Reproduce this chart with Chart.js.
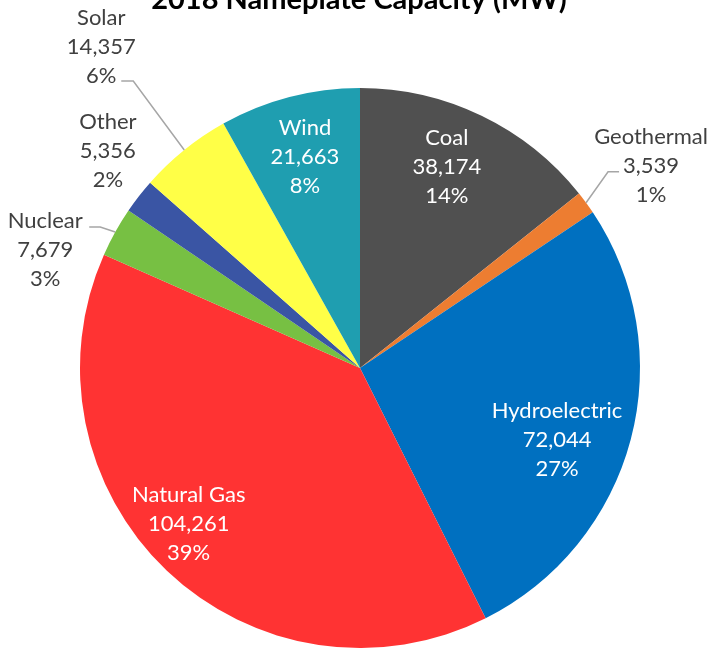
<!DOCTYPE html>
<html>
<head>
<meta charset="utf-8">
<script src="https://cdn.jsdelivr.net/npm/chart.js@4.4.1/dist/chart.umd.min.js"></script>
<style>
  body { margin: 0; background: #fff; }
  canvas { display: block; }
</style>
</head>
<body>
<canvas id="capacityChart" width="711" height="648"></canvas>
<script>
const categories = ['Coal', 'Geothermal', 'Hydroelectric', 'Natural Gas', 'Nuclear', 'Other', 'Solar', 'Wind'];
const capacityMW = [38174, 3539, 72044, 104261, 7679, 5356, 14357, 21663];
const percentLabels = ['14%', '1%', '27%', '39%', '3%', '2%', '6%', '8%'];
const sliceColors = ['#505050', '#ED7D31', '#0070C0', '#FF3333', '#77C043', '#3A55A4', '#FFFF47', '#1F9EB0'];

// where each label goes: inside the slice, or outside with an optional leader line
// (offsets are relative to the point on the rim at the middle of the slice)
const labelPlacement = [
  { inside: true, radius: 0.78, dx: -8, dy: -4 },
  { dx: 65, dy: -37, leader: [[22, -31], [33, -31]] },
  { inside: true, radius: 0.75, dx: -6, dy: 18 },
  { inside: true, radius: 0.825, dx: -12, dy: -11 },
  { dx: -70, dy: 18, leader: [[-15, -5], [-26, -5]] },
  { dx: -31, dy: -45 },
  { dx: -83, dy: -103, leader: [[-51, -69], [-63, -69]] },
  { inside: true, radius: 0.78, dx: 0, dy: 0 }
];

const FONT = 'Lato, "Open Sans", sans-serif';

const pieLabels = {
  id: 'pieLabels',
  afterDatasetsDraw(chart) {
    const ctx = chart.ctx;
    const meta = chart.getDatasetMeta(0);
    ctx.save();
    ctx.font = '22px ' + FONT;
    ctx.textAlign = 'center';
    ctx.textBaseline = 'middle';
    meta.data.forEach((arc, i) => {
      const p = arc.getProps(['x', 'y', 'startAngle', 'endAngle', 'outerRadius'], true);
      const mid = (p.startAngle + p.endAngle) / 2;
      const place = labelPlacement[i];
      const lines = [categories[i], capacityMW[i].toLocaleString('en-US'), percentLabels[i]];
      let cx, cy;
      if (place.inside) {
        cx = p.x + Math.cos(mid) * p.outerRadius * place.radius + place.dx;
        cy = p.y + Math.sin(mid) * p.outerRadius * place.radius + place.dy;
        ctx.fillStyle = '#ffffff';
      } else {
        const ex = p.x + Math.cos(mid) * p.outerRadius;
        const ey = p.y + Math.sin(mid) * p.outerRadius;
        cx = ex + place.dx;
        cy = ey + place.dy;
        if (place.leader) {
          ctx.beginPath();
          ctx.moveTo(ex, ey);
          place.leader.forEach(pt => ctx.lineTo(ex + pt[0], ey + pt[1]));
          ctx.strokeStyle = '#A6A6A6';
          ctx.lineWidth = 1.5;
          ctx.stroke();
        }
        ctx.fillStyle = '#404040';
      }
      lines.forEach((t, k) => ctx.fillText(t, cx, cy + (k - 1) * 29));
    });
    // title, partly cut off at the top edge like the source image
    ctx.font = 'bold 29px ' + FONT;
    ctx.fillStyle = '#000000';
    ctx.textBaseline = 'alphabetic';
    ctx.fillText('2018 Nameplate Capacity (MW)', 359, 9);
    ctx.restore();
  }
};

new Chart(document.getElementById('capacityChart'), {
  type: 'pie',
  data: {
    labels: categories,
    datasets: [{
      data: capacityMW,
      backgroundColor: sliceColors,
      borderWidth: 0
    }]
  },
  options: {
    responsive: false,
    animation: false,
    layout: { padding: { top: 88, bottom: 0, left: 80, right: 71 } },
    plugins: {
      legend: { display: false },
      tooltip: { enabled: false }
    }
  },
  plugins: [pieLabels]
});
</script>
</body>
</html>
